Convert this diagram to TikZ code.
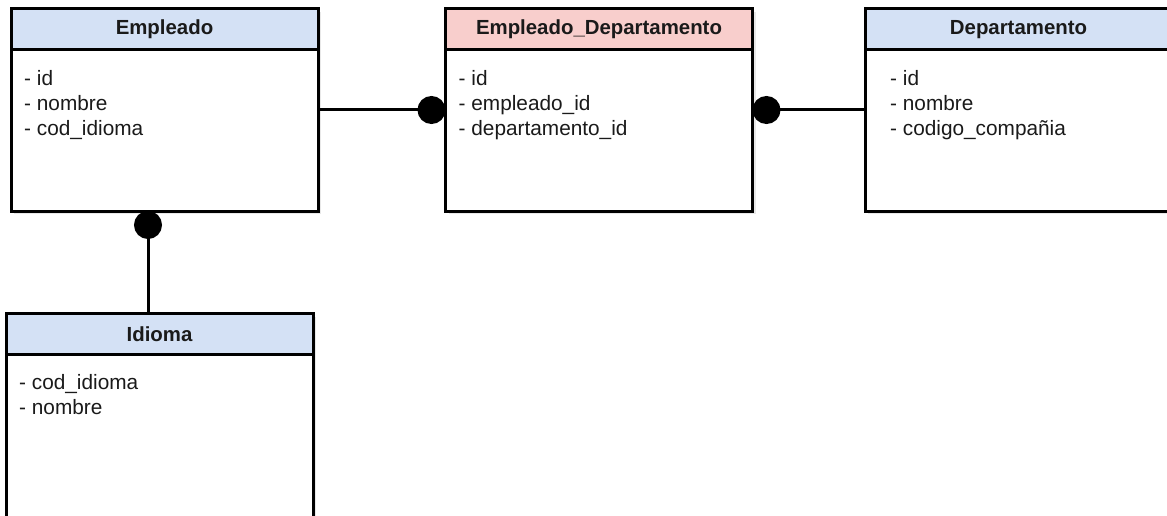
\documentclass[tikz,border=0pt]{standalone}
\usepackage{fontspec}
\setmainfont{Liberation Sans}
\usetikzlibrary{arrows.meta,positioning,shadows}

\definecolor{hdrblue}{HTML}{D4E1F5}
\definecolor{hdrpink}{HTML}{F8CECC}
\definecolor{ink}{HTML}{1A1A1A}

\begin{document}
\begin{tikzpicture}[
  x=1pt, y=-1pt,
  font=\fontsize{20.8}{25}\selectfont, text=ink,
  shade/.style={drop shadow={opacity=.18, shadow xshift=3pt, shadow yshift=-3pt}},
  head/.style={draw, line width=3pt, outer sep=0pt, minimum width=307pt, minimum height=41pt,
    fill=hdrblue, font=\fontsize{20.4}{24}\selectfont\bfseries, shade},
  body/.style={draw, line width=3pt, outer sep=0pt, minimum width=307pt, minimum height=161pt,
    fill=white, shade},
  attrs/.style={anchor=north west, align=left, inner sep=0pt, xshift=13pt, yshift=-20pt},
  rel/.style={line width=3pt, -{Circle[length=28pt]}}
]
\useasboundingbox[fill=white] (0,0) rectangle (1167,516);

% tables
\node[head] (emp-head) at (164.5,29.5) {Empleado};
\node[body, below=0pt of emp-head] (emp-body) {};
\node[attrs] at (emp-body.north west) {- id\\- nombre\\- cod\_idioma};

\node[head, fill=hdrpink] (ed-head) at (599,29.5) {Empleado\_Departamento};
\node[body, below=0pt of ed-head] (ed-body) {};
\node[attrs] at (ed-body.north west) {- id\\- empleado\_id\\- departamento\_id};

\node[head] (dep-head) at (1018.5,29.5) {Departamento};
\node[body, below=0pt of dep-head] (dep-body) {};
\node[attrs, xshift=12pt] at (dep-body.north west) {- id\\- nombre\\- codigo\_compañia};

\node[head] (idi-head) at (159.5,334) {Idioma};
\node[body, below=0pt of idi-head, minimum height=175pt] (idi-body) {};
\node[attrs] at (idi-body.north west) {- cod\_idioma\\- nombre};

% relations
\draw[rel] (emp-body.east |- 0,110) -- (ed-body.west |- 0,110);
\draw[rel] (dep-body.west |- 0,110) -- (ed-body.east |- 0,110);
\draw[rel] (idi-head.north -| 148,0) -- (emp-body.south -| 148,0);
\end{tikzpicture}
\end{document}
